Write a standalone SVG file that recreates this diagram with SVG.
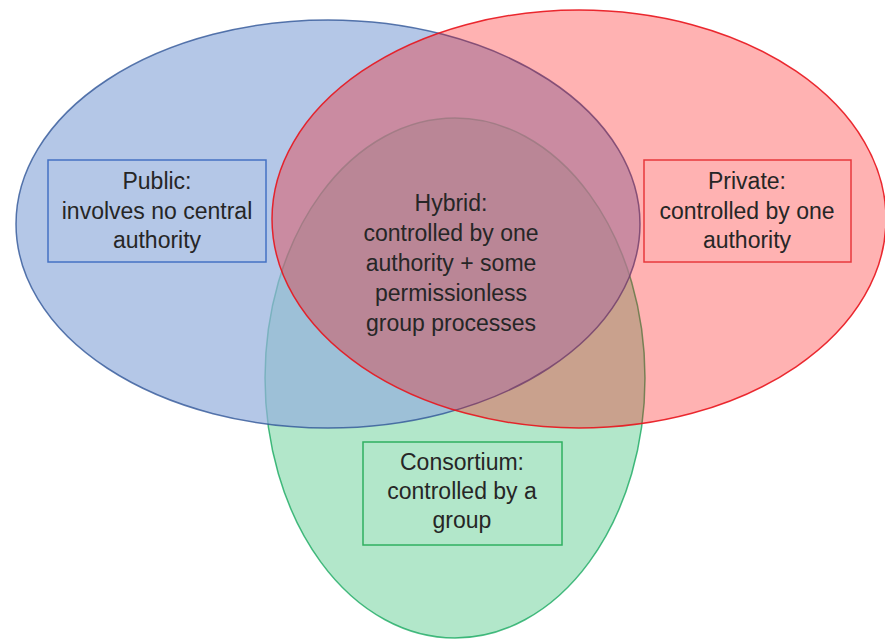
<svg xmlns="http://www.w3.org/2000/svg" width="885" height="640" viewBox="0 0 885 640">
<style>
.t{font-family:"Liberation Sans",Arial,sans-serif;font-size:23px;fill:#262626;text-anchor:middle}
.box{fill:none;stroke-width:1.5}
</style>
<rect width="885" height="640" fill="#ffffff"/>
<g id="consortium">
<ellipse cx="455" cy="378" rx="190" ry="260" fill="#00b050" fill-opacity="0.3" stroke="#00a050" stroke-opacity="0.7" stroke-width="1.5"/>
</g>
<g id="public">
<ellipse cx="328" cy="224" rx="312" ry="204" fill="#94afdd" fill-opacity="0.7" stroke="#2f5597" stroke-opacity="0.8" stroke-width="1.5"/>
</g>
<g id="private">
<ellipse cx="579" cy="219" rx="307" ry="209" fill="#ff0000" fill-opacity="0.3" stroke="#e8141c" stroke-opacity="0.9" stroke-width="1.5"/>
</g>
<g id="public-label">
<rect class="box" x="48" y="160" width="218" height="102" stroke="#4472c4"/>
<text class="t" x="157" y="189">Public:</text>
<text class="t" x="157" y="219">involves no central</text>
<text class="t" x="157" y="248">authority</text>
</g>
<g id="private-label">
<rect class="box" x="644" y="160" width="207" height="102" stroke="#e8383c"/>
<text class="t" x="747" y="189">Private:</text>
<text class="t" x="747" y="219">controlled by one</text>
<text class="t" x="747" y="248">authority</text>
</g>
<g id="hybrid-label">
<text class="t" x="451" y="211">Hybrid:</text>
<text class="t" x="451" y="241">controlled by one</text>
<text class="t" x="451" y="271">authority + some</text>
<text class="t" x="451" y="301">permissionless</text>
<text class="t" x="451" y="331">group processes</text>
</g>
<g id="consortium-label">
<rect class="box" x="363" y="442" width="199" height="103" stroke="#2fb060"/>
<text class="t" x="462" y="470">Consortium:</text>
<text class="t" x="462" y="499">controlled by a</text>
<text class="t" x="462" y="528">group</text>
</g>
<g id="connectors"></g>
</svg>
